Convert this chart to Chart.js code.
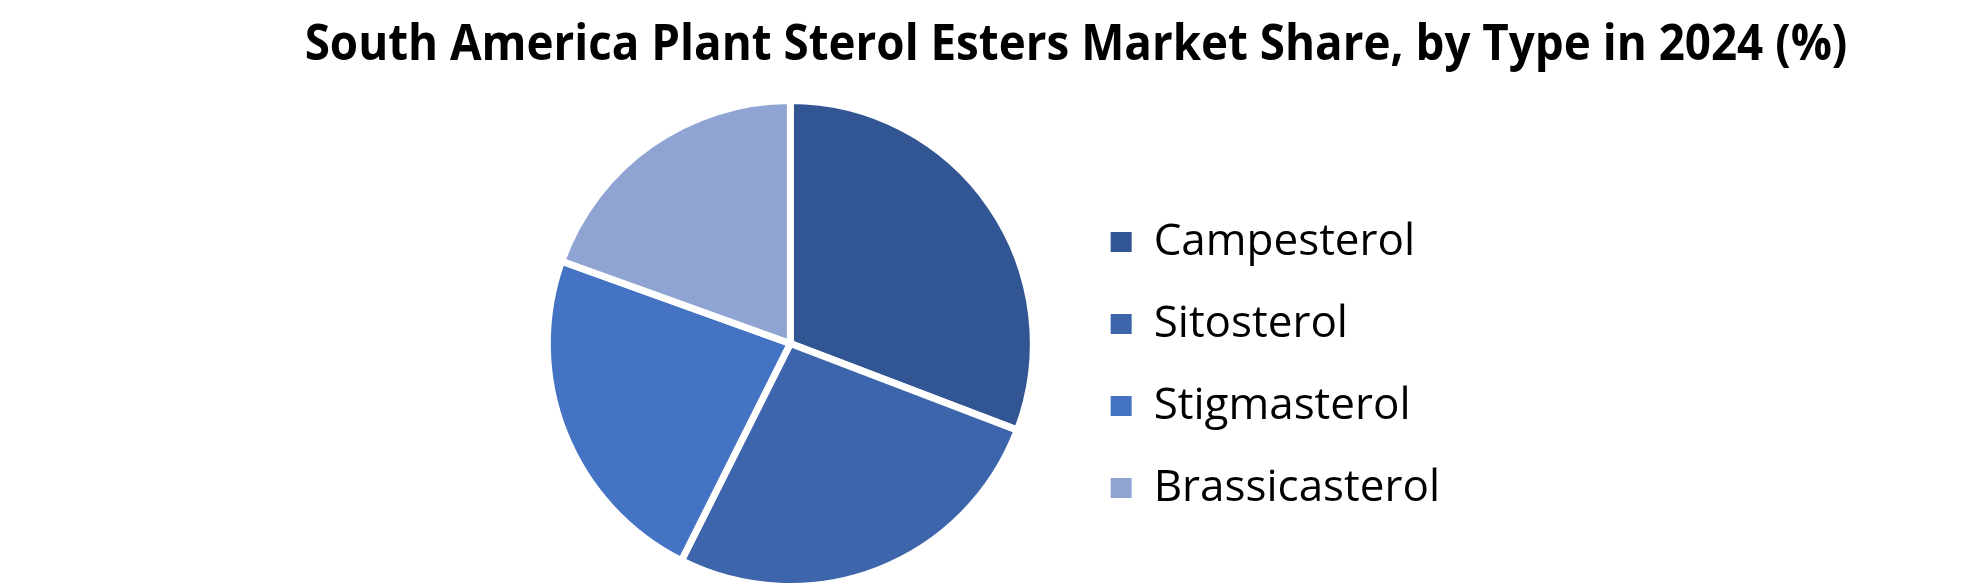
<!DOCTYPE html>
<html lang="en">
<head>
  <meta charset="UTF-8">
  <title>South America Plant Sterol Esters Market Share</title>
  <script src="https://cdn.jsdelivr.net/npm/chart.js"></script>
  <style>
    body { margin: 0; background: #ffffff; }
    #wrap { position: relative; width: 1980px; height: 588px; overflow: hidden; }
    #shareChart { position: absolute; left: 0; top: 0; }
    .title {
      position: absolute; left: 172px; width: 1808px; top: 16px;
      text-align: center; font-family: "Open Sans", sans-serif;
      font-weight: bold; font-size: 50px; line-height: 50px; color: #000;
      white-space: nowrap;
      transform: scaleX(0.915); transform-origin: 904px 50%;
    }
  </style>
</head>
<body>

<div id="wrap">
  <canvas id="shareChart" width="1980" height="588"></canvas>
  <div class="title">South America Plant Sterol Esters Market Share, by Type in 2024 (%)</div>
</div>

<script>
// values
const types = ["Campesterol", "Sitosterol", "Stigmasterol", "Brassicasterol"];
const shares = [30.8, 26.6, 23.1, 19.5];
const sliceColors = ["#325694", "#3D65AB", "#4573C4", "#8FA4D3"];

const ctx = document.getElementById("shareChart").getContext("2d");

const pieChart = new Chart(ctx, {
  type: "pie",
  data: {
    labels: types,
    datasets: [{
      data: shares,
      backgroundColor: sliceColors,
      borderColor: "#ffffff",
      borderWidth: 7,
      radius: 243,
      clip: false
    }]
  },
  options: {
    responsive: false,
    devicePixelRatio: 1,
    animation: false,
    layout: {
      padding: { top: 139, bottom: 40, left: 508, right: 530 }
    },
    plugins: {
      tooltip: { enabled: false },
      legend: {
        position: "right",
        align: "end",
        labels: {
          boxWidth: 21,
          boxHeight: 20,
          padding: 38,
          color: "#000000",
          font: { family: "'Open Sans', sans-serif", size: 44 },
          generateLabels: chart => {
            const items = Chart.overrides.pie.plugins.legend.labels.generateLabels(chart);
            items.forEach(it => { it.lineWidth = 0; });
            return items;
          }
        }
      }
    }
  }
});
</script>

</body>
</html>
